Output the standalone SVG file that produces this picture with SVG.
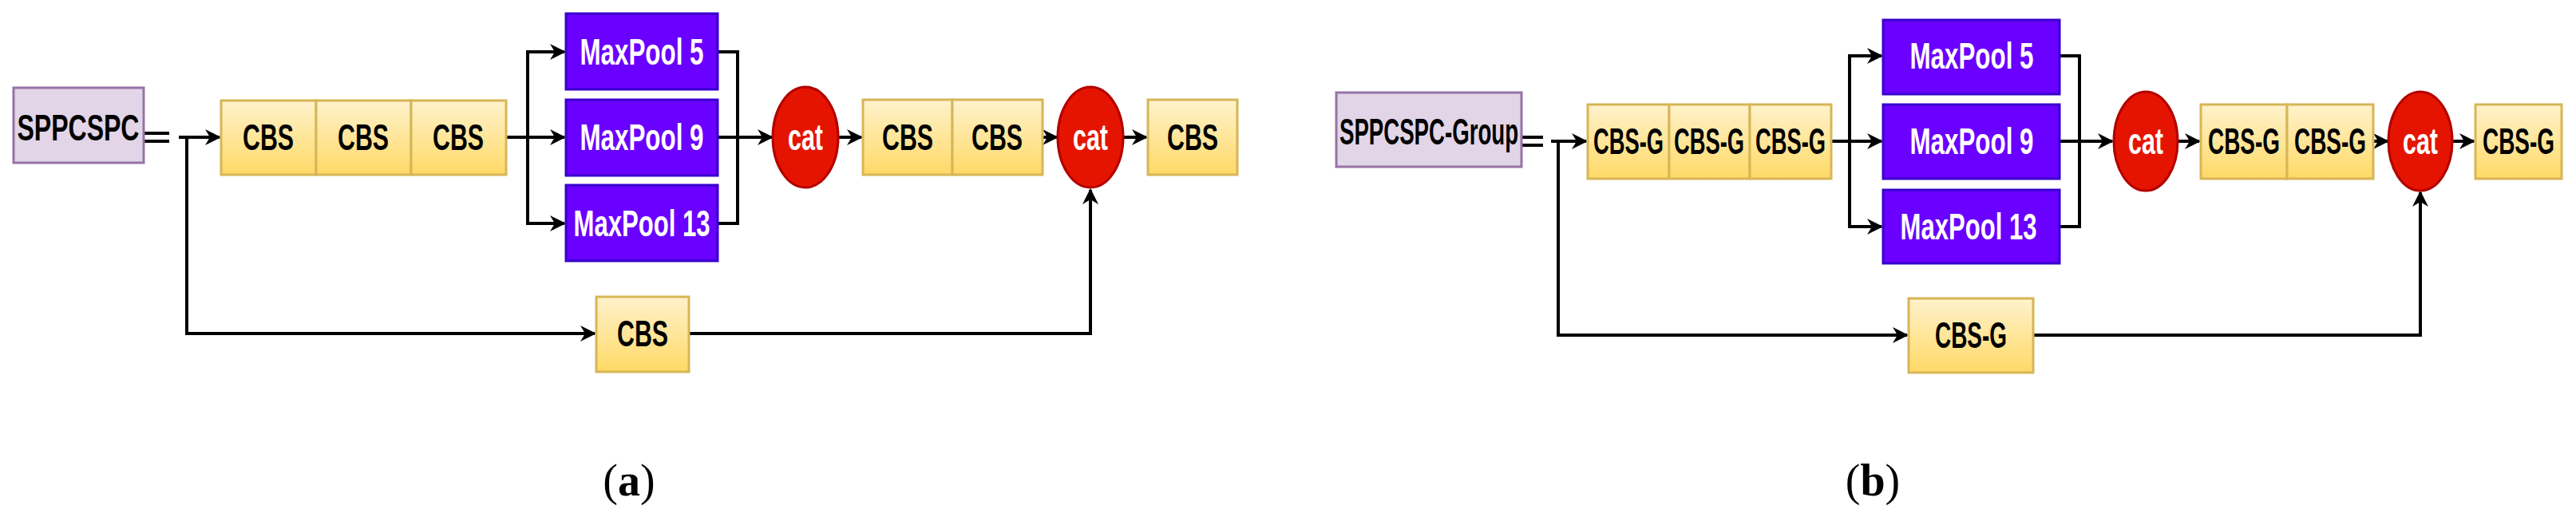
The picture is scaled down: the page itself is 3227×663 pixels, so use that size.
<svg xmlns="http://www.w3.org/2000/svg" width="3227" height="663" viewBox="0 0 3227 663">
<defs>
<linearGradient id="yg" x1="0" y1="0" x2="0" y2="1"><stop offset="0" stop-color="#fff2cc"/><stop offset="1" stop-color="#ffd966"/></linearGradient>
<marker id="ah" viewBox="0 0 10 10" refX="9" refY="5" markerWidth="5" markerHeight="5" orient="auto" markerUnits="strokeWidth"><path d="M0,0 L10,5 L0,10 L3,5 Z" fill="#000"/></marker>
<style>
.y{fill:url(#yg);stroke:#d6b656;stroke-width:3}
.p{fill:#e1d5e7;stroke:#9673a6;stroke-width:3}
.m{fill:#6a00ff;stroke:#3700cc;stroke-width:3}
.c{fill:#e51400;stroke:#b20000;stroke-width:3}
text{font-family:"Liberation Sans",Arial,sans-serif;font-weight:bold;text-anchor:middle;dominant-baseline:central;font-size:46px}
.b{fill:#000}
.w{fill:#fff}
.l{font-family:"Liberation Serif","Times New Roman",serif;font-size:56px;font-weight:normal;fill:#000}
.cn{fill:none;stroke:#000;stroke-width:4}
</style>
</defs>
<g id="connectors">
<path class="cn" d="M181,167 H212 M181,177 H212"/>
<path class="cn" d="M224,172 H275" marker-end="url(#ah)"/>
<path class="cn" d="M234,172 V418 H745" marker-end="url(#ah)"/>
<path class="cn" d="M634,172 H707" marker-end="url(#ah)"/>
<path class="cn" d="M661,172 V65 H707" marker-end="url(#ah)"/>
<path class="cn" d="M661,172 V280 H707" marker-end="url(#ah)"/>
<path class="cn" d="M899,65 H924 V280 H899 M899,172 H967" marker-end="url(#ah)"/>
<path class="cn" d="M1050,172 H1079" marker-end="url(#ah)"/>
<path class="cn" d="M1306,172 H1324" marker-end="url(#ah)"/>
<path class="cn" d="M1408,172 H1436" marker-end="url(#ah)"/>
<path class="cn" d="M863,418 H1366 V238" marker-end="url(#ah)"/>

<path class="cn" d="M1906,172 H1933 M1906,182 H1933"/>
<path class="cn" d="M1943,177 H1987" marker-end="url(#ah)"/>
<path class="cn" d="M1952,177 V420 H2389" marker-end="url(#ah)"/>
<path class="cn" d="M2294,177 H2357" marker-end="url(#ah)"/>
<path class="cn" d="M2317,177 V70 H2357" marker-end="url(#ah)"/>
<path class="cn" d="M2317,177 V284 H2357" marker-end="url(#ah)"/>
<path class="cn" d="M2580,70 H2605 V284 H2580 M2580,177 H2646" marker-end="url(#ah)"/>
<path class="cn" d="M2728,177 H2755" marker-end="url(#ah)"/>
<path class="cn" d="M2973,177 H2991" marker-end="url(#ah)"/>
<path class="cn" d="M3072,177 H3099" marker-end="url(#ah)"/>
<path class="cn" d="M2547,420 H3032 V241" marker-end="url(#ah)"/>
</g>
<g id="a_sppcspc"><rect class="p" x="17" y="110" width="163" height="94"/><text class="b" x="98" y="160" textLength="153" lengthAdjust="spacingAndGlyphs">SPPCSPC</text></g>
<g id="a_cbs1"><rect class="y" x="277" y="126" width="119" height="93"/><text class="b" x="336" y="172" textLength="64" lengthAdjust="spacingAndGlyphs">CBS</text></g>
<g id="a_cbs2"><rect class="y" x="396" y="126" width="119" height="93"/><text class="b" x="455" y="172" textLength="64" lengthAdjust="spacingAndGlyphs">CBS</text></g>
<g id="a_cbs3"><rect class="y" x="515" y="126" width="119" height="93"/><text class="b" x="574" y="172" textLength="64" lengthAdjust="spacingAndGlyphs">CBS</text></g>
<g id="a_mp5"><rect class="m" x="709" y="17" width="190" height="95"/><text class="w" x="804" y="65" textLength="155" lengthAdjust="spacingAndGlyphs">MaxPool 5</text></g>
<g id="a_mp9"><rect class="m" x="709" y="125" width="190" height="95"/><text class="w" x="804" y="172" textLength="155" lengthAdjust="spacingAndGlyphs">MaxPool 9</text></g>
<g id="a_mp13"><rect class="m" x="709" y="232" width="190" height="95"/><text class="w" x="804" y="280" textLength="171" lengthAdjust="spacingAndGlyphs">MaxPool 13</text></g>
<g id="a_cat1"><ellipse class="c" cx="1009" cy="172" rx="41" ry="63"/><text class="w" x="1009" y="172" textLength="44" lengthAdjust="spacingAndGlyphs">cat</text></g>
<g id="a_cbs4"><rect class="y" x="1081" y="125" width="112" height="94"/><text class="b" x="1137" y="172" textLength="64" lengthAdjust="spacingAndGlyphs">CBS</text></g>
<g id="a_cbs5"><rect class="y" x="1193" y="125" width="113" height="94"/><text class="b" x="1249" y="172" textLength="64" lengthAdjust="spacingAndGlyphs">CBS</text></g>
<g id="a_cat2"><ellipse class="c" cx="1366" cy="172" rx="41" ry="63"/><text class="w" x="1366" y="172" textLength="44" lengthAdjust="spacingAndGlyphs">cat</text></g>
<g id="a_cbs6"><rect class="y" x="1438" y="125" width="112" height="94"/><text class="b" x="1494" y="172" textLength="64" lengthAdjust="spacingAndGlyphs">CBS</text></g>
<g id="a_cbs7"><rect class="y" x="747" y="372" width="116" height="94"/><text class="b" x="805" y="418" textLength="64" lengthAdjust="spacingAndGlyphs">CBS</text></g>
<text class="l" x="788" y="602">(<tspan font-weight="bold">a</tspan>)</text>

<g id="b_sppcspc"><rect class="p" x="1674" y="116" width="232" height="93"/><text class="b" x="1790" y="165" textLength="224" lengthAdjust="spacingAndGlyphs">SPPCSPC-Group</text></g>
<g id="b_cbs1"><rect class="y" x="1989" y="131" width="102" height="93"/><text class="b" x="2040" y="177" textLength="88" lengthAdjust="spacingAndGlyphs">CBS-G</text></g>
<g id="b_cbs2"><rect class="y" x="2091" y="131" width="101" height="93"/><text class="b" x="2141" y="177" textLength="88" lengthAdjust="spacingAndGlyphs">CBS-G</text></g>
<g id="b_cbs3"><rect class="y" x="2192" y="131" width="102" height="93"/><text class="b" x="2243" y="177" textLength="88" lengthAdjust="spacingAndGlyphs">CBS-G</text></g>
<g id="b_mp5"><rect class="m" x="2359" y="25" width="221" height="93"/><text class="w" x="2470" y="70" textLength="155" lengthAdjust="spacingAndGlyphs">MaxPool 5</text></g>
<g id="b_mp9"><rect class="m" x="2359" y="131" width="221" height="93"/><text class="w" x="2470" y="177" textLength="155" lengthAdjust="spacingAndGlyphs">MaxPool 9</text></g>
<g id="b_mp13"><rect class="m" x="2359" y="238" width="221" height="92"/><text class="w" x="2466" y="284" textLength="171" lengthAdjust="spacingAndGlyphs">MaxPool 13</text></g>
<g id="b_cat1"><ellipse class="c" cx="2688" cy="177" rx="40" ry="62"/><text class="w" x="2688" y="177" textLength="44" lengthAdjust="spacingAndGlyphs">cat</text></g>
<g id="b_cbs4"><rect class="y" x="2757" y="131" width="108" height="93"/><text class="b" x="2811" y="177" textLength="90" lengthAdjust="spacingAndGlyphs">CBS-G</text></g>
<g id="b_cbs5"><rect class="y" x="2865" y="131" width="108" height="93"/><text class="b" x="2919" y="177" textLength="90" lengthAdjust="spacingAndGlyphs">CBS-G</text></g>
<g id="b_cat2"><ellipse class="c" cx="3032" cy="177" rx="40" ry="62"/><text class="w" x="3032" y="177" textLength="44" lengthAdjust="spacingAndGlyphs">cat</text></g>
<g id="b_cbs6"><rect class="y" x="3101" y="131" width="108" height="93"/><text class="b" x="3155" y="177" textLength="90" lengthAdjust="spacingAndGlyphs">CBS-G</text></g>
<g id="b_cbs7"><rect class="y" x="2391" y="374" width="156" height="93"/><text class="b" x="2469" y="420" textLength="90" lengthAdjust="spacingAndGlyphs">CBS-G</text></g>
<text class="l" x="2346" y="602">(<tspan font-weight="bold">b</tspan>)</text>
</svg>
